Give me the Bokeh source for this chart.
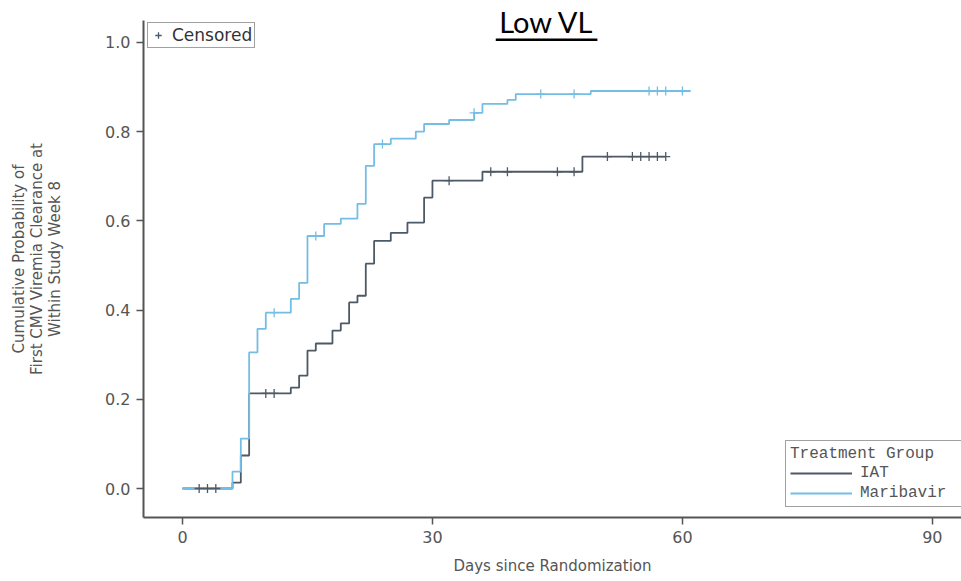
import numpy as np
from bokeh.plotting import figure
from bokeh.models import Range1d, Legend, LegendItem, Label, FixedTicker
from bokeh.embed import file_html
from bokeh.resources import INLINE

# ---------------- data ----------------
iat_days = [0, 6, 7, 8, 13, 14, 15, 16, 18, 19, 20, 21, 22, 23, 25, 27, 29, 30, 36, 48]
iat_prob = [0.0, 0.013, 0.074, 0.213, 0.226, 0.253, 0.309, 0.325, 0.354, 0.370,
            0.417, 0.432, 0.504, 0.555, 0.573, 0.596, 0.652, 0.690, 0.710, 0.744]
iat_last_day = 58
iat_censored = [2, 3, 4, 10, 11, 32, 37, 39, 45, 47, 51, 54, 55, 56, 57, 58]

mbv_days = [0, 6, 7, 8, 9, 10, 13, 14, 15, 17, 19, 21, 22, 23, 25, 28, 29, 32, 35, 36, 39, 40, 49]
mbv_prob = [0.0, 0.038, 0.112, 0.305, 0.358, 0.394, 0.425, 0.461, 0.566, 0.593, 0.605,
            0.638, 0.723, 0.772, 0.784, 0.800, 0.817, 0.826, 0.842, 0.862, 0.871, 0.884, 0.891]
mbv_last_day = 61
mbv_censored = [11, 16, 24, 35, 43, 47, 56, 57, 58, 60]

group_names = ["IAT", "Maribavir"]
x_ticks = [0, 30, 60, 90]
y_ticks = [0.0, 0.2, 0.4, 0.6, 0.8, 1.0]

title_text = "Low VL"
x_label = "Days since Randomization"
y_label = "Cumulative Probability of\nFirst CMV Viremia Clearance at\nWithin Study Week 8"

# ---------------- styles ----------------
IAT_COLOR = "#4d5965"
MBV_COLOR = "#74bde4"
AXIS_COLOR = "#555555"
TEXT_COLOR = "#555555"
SANS = "DejaVu Sans"
MONO = "Liberation Mono"

Y_AXIS_LOW, Y_AXIS_HIGH = -0.065, 1.049


def step_xy(days, prob, last_day):
    return list(days) + [last_day], list(prob) + [prob[-1]]


def censor_y(days, prob, cens):
    idx = np.searchsorted(np.array(days), np.array(cens), side="right") - 1
    return list(np.array(prob)[idx])


p = figure(width=961, height=581, output_backend="svg", toolbar_location=None,
           x_range=Range1d(-4.68, 93.5), y_range=Range1d(Y_AXIS_LOW, 1.0938),
           min_border_left=143, min_border_right=0, min_border_top=0, min_border_bottom=64)
p.outline_line_color = None
p.grid.visible = False
p.background_fill_color = "white"
p.border_fill_color = "white"

# curves
ix, iy = step_xy(iat_days, iat_prob, iat_last_day)
mx, my = step_xy(mbv_days, mbv_prob, mbv_last_day)
r_iat = p.step(ix, iy, mode="after", line_color=IAT_COLOR, line_width=1.8)
r_mbv = p.step(mx, my, mode="after", line_color=MBV_COLOR, line_width=1.8)
r_ic = p.scatter(iat_censored, censor_y(iat_days, iat_prob, iat_censored), marker="cross",
                 size=9, line_color=IAT_COLOR, line_width=1.3)
r_mc = p.scatter(mbv_censored, censor_y(mbv_days, mbv_prob, mbv_censored), marker="cross",
                 size=9, line_color=MBV_COLOR, line_width=1.3)

# axes
for ax in (p.xaxis[0], p.yaxis[0]):
    ax.axis_line_color = AXIS_COLOR
    ax.axis_line_width = 2
    ax.major_tick_line_color = AXIS_COLOR
    ax.major_tick_line_width = 1.5
    ax.major_tick_out = 7
    ax.major_tick_in = 0
    ax.minor_tick_line_color = None
    ax.major_label_text_font = SANS
    ax.major_label_text_font_size = "16px"
    ax.major_label_text_color = TEXT_COLOR
    ax.axis_label_text_font = SANS
    ax.axis_label_text_font_style = "normal"
    ax.axis_label_text_color = TEXT_COLOR

p.xaxis.ticker = FixedTicker(ticks=x_ticks)
p.yaxis.ticker = FixedTicker(ticks=y_ticks)
p.yaxis.bounds = (Y_AXIS_LOW, Y_AXIS_HIGH)
p.yaxis.major_label_overrides = {t: f"{t:.1f}" for t in y_ticks}
p.xaxis.axis_label = x_label
p.xaxis.axis_label_text_font_size = "15px"
p.xaxis.axis_label_standoff = 11
p.xaxis.major_label_standoff = 6
p.yaxis.axis_label = y_label
p.yaxis.axis_label_text_font_size = "15px"
p.yaxis.axis_label_text_line_height = 1.0
p.yaxis.axis_label_standoff = 38
p.yaxis.major_label_standoff = 6

# title (underlined)
TITLE_X, TITLE_Y, TITLE_HALF = 43.7, 1.0471, 6.1
UNDERLINE_Y = 1.0056
p.add_layout(Label(x=TITLE_X, y=TITLE_Y, text=title_text, text_font="Lato",
                   text_font_size="29px", text_color="black", text_align="center",
                   text_baseline="middle"))
p.segment(x0=[TITLE_X - TITLE_HALF], y0=[UNDERLINE_Y], x1=[TITLE_X + TITLE_HALF],
          y1=[UNDERLINE_Y], line_color="black", line_width=2.5)

# censored legend
leg_c = Legend(items=[LegendItem(label="Censored", renderers=[r_ic])], location=(4, 469),
               margin=0, padding=2, glyph_width=16, glyph_height=16, label_standoff=6,
               label_height=16, label_text_font=SANS, label_text_font_size="17px",
               label_text_color="#333333", border_line_color="#444444", border_line_width=1.5,
               background_fill_alpha=1)
p.add_layout(leg_c)

# treatment group legend
leg_t = Legend(items=[LegendItem(label=group_names[0], renderers=[r_iat]),
                      LegendItem(label=group_names[1], renderers=[r_mbv])],
               location=(642, 10), title="Treatment Group",
               title_text_font=MONO, title_text_font_size="16px", title_text_color=TEXT_COLOR,
               title_text_font_style="normal", title_standoff=1,
               label_text_font=MONO, label_text_font_size="16px", label_text_color=TEXT_COLOR,
               glyph_width=62, glyph_height=16, label_height=16, label_standoff=8,
               label_width=110, spacing=2, padding=4, margin=0,
               border_line_color="#444444", border_line_width=1.5)
p.add_layout(leg_t)

open("out.html", "w").write(file_html(p, INLINE))
